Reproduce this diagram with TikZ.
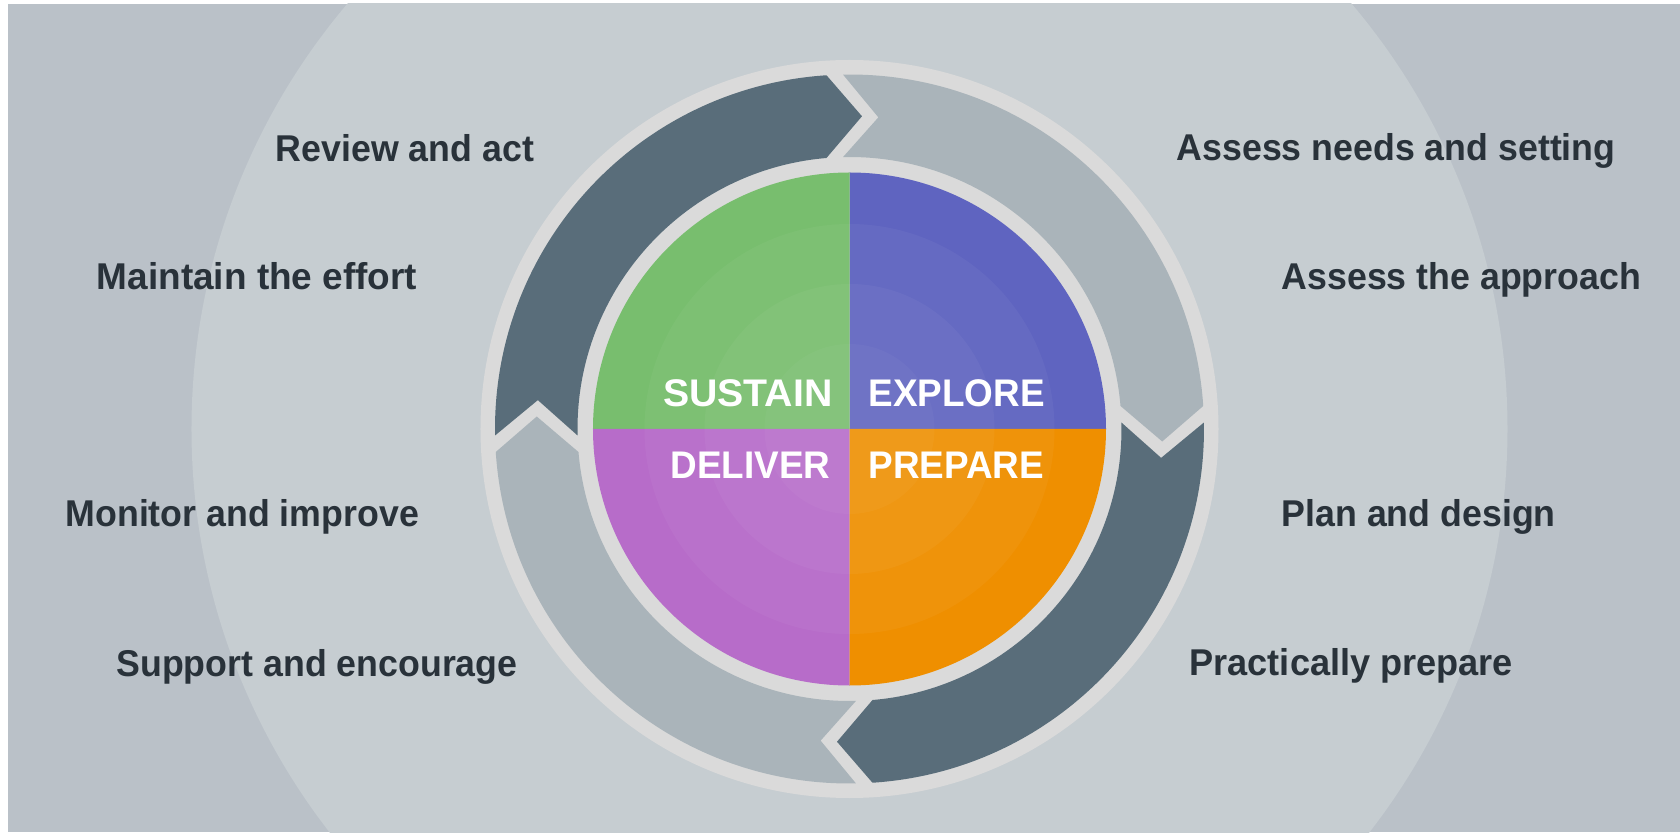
\documentclass[tikz,border=0pt]{standalone}
\usepackage{fontspec}
\newfontfamily\lblfont[FakeStretch=0.958]{Liberation Sans Bold}
\definecolor{pagebg}{HTML}{BAC1C8}
\definecolor{bigc}{HTML}{C6CDD1}
\definecolor{ringc}{HTML}{DADADA}
\definecolor{darkarr}{HTML}{596D7A}
\definecolor{lightarr}{HTML}{AAB4BA}
\definecolor{qgreen}{HTML}{78BE6E}
\definecolor{qblue}{HTML}{5F64C0}
\definecolor{qviolet}{HTML}{B76CC9}
\definecolor{qorange}{HTML}{EF8F00}
\definecolor{txt}{HTML}{29323A}
% #1 colour, #2 start junction angle, #3 end junction angle
\newcommand\cyclearrow[3]{%
  \fill[#1] ({#2+asin(6.5/354.5)}:354.5)
    arc[start angle={#2+asin(6.5/354.5)}, end angle={#3+asin(23/354.5)}, radius=354.5]
    -- ({#3+atan(-12.5/313)}:313)
    -- ({#3+asin(23/272)}:272)
    arc[start angle={#3+asin(23/272)}, end angle={#2+asin(6.5/272)}, radius=272]
    -- ({#2+atan(-29/313)}:313) -- cycle;}
\begin{document}
\begin{tikzpicture}[x=1pt,y=1pt,
  lbl/.style={font=\lblfont\fontsize{37.3}{40}\selectfont, text=txt, inner sep=0pt, outer sep=0pt},
  ctr/.style={font=\lblfont\fontsize{38.5}{40}\selectfont, text=white, inner sep=0pt, outer sep=0pt}]
\useasboundingbox (-849.5,-403) rectangle (830.5,429);
\fill[white] (-849.5,-403) rectangle (830.5,429);
\begin{scope}
  \clip (-841.5,-403) rectangle (830.5,425);
  \fill[pagebg] (-841.5,-403) rectangle (830.5,425);
  \fill[bigc] (0,0) circle[radius=658];
\end{scope}
\fill[ringc] (0,0) circle[radius=369];
% arrows
\cyclearrow{darkarr}{180}{90}
\cyclearrow{lightarr}{90}{0}
\cyclearrow{darkarr}{0}{-90}
\cyclearrow{lightarr}{-90}{-180}
% quadrants
\fill[qblue] (0,0) -- (0:256.5) arc[start angle=0,end angle=90,radius=256.5] -- cycle;
\fill[qgreen] (0,0) -- (90:256.5) arc[start angle=90,end angle=180,radius=256.5] -- cycle;
\fill[qviolet] (0,0) -- (180:256.5) arc[start angle=180,end angle=270,radius=256.5] -- cycle;
\fill[qorange] (0,0) -- (270:256.5) arc[start angle=270,end angle=360,radius=256.5] -- cycle;
\fill[white,opacity=0.04] (0,0) circle[radius=205];
\fill[white,opacity=0.04] (0,0) circle[radius=145];
\fill[white,opacity=0.03] (0,0) circle[radius=85];
% centre labels
\node[ctr, anchor=base east, xscale=1.065, transform shape] (sustain) at (-17,22.3) {SUSTAIN};
\node[ctr, anchor=base west] (explore) at (19,22.3) {EXPLORE};
\node[ctr, anchor=base east] (deliver) at (-19,-50) {DELIVER};
\node[ctr, anchor=base west] (prepare) at (19,-50) {PREPARE};
% outer labels
\node[lbl, anchor=base east] (review) at (-315.5,267.3) {Review and act};
\node[lbl, anchor=base east, xscale=1.035, transform shape] (maintain) at (-432.2,139) {Maintain the effort};
\node[lbl, anchor=base east] (monitor) at (-430.5,-97) {Monitor and improve};
\node[lbl, anchor=base east] (support) at (-332,-247) {Support and encourage};
\node[lbl, anchor=base west] (needs) at (327.2,268) {Assess needs and setting};
\node[lbl, anchor=base west] (approach) at (432.2,139) {Assess the approach};
\node[lbl, anchor=base west] (plan) at (432.2,-97) {Plan and design};
\node[lbl, anchor=base west, xscale=1.012, transform shape] (practical) at (340,-246) {Practically prepare};
\end{tikzpicture}
\end{document}
